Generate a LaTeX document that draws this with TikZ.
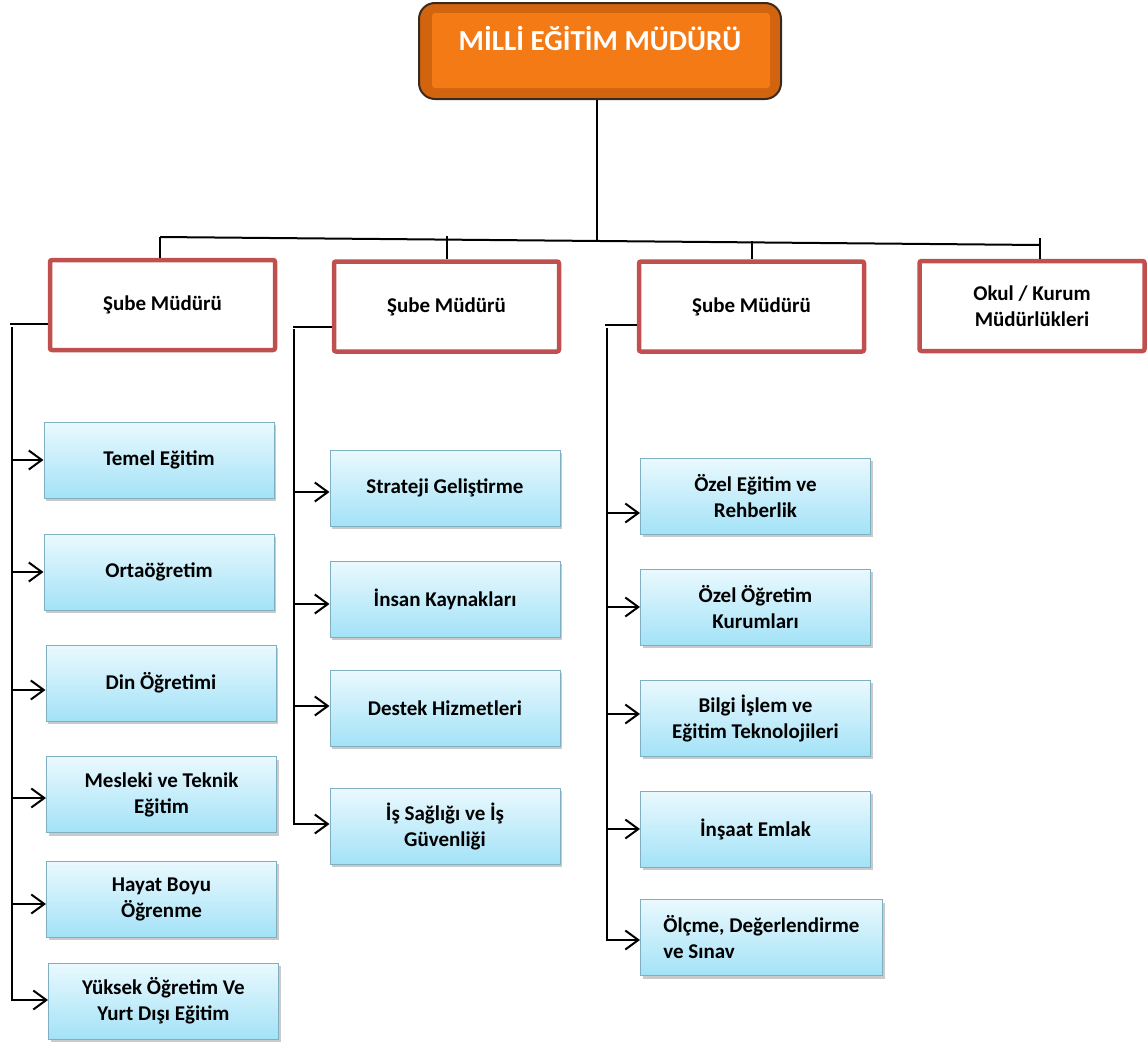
\documentclass[tikz,border=0pt]{standalone}
\usepackage{fontspec}
\setmainfont{Carlito}
\usetikzlibrary{arrows.meta,shadows}
\definecolor{redb}{HTML}{C0504D}
\definecolor{bluetop}{HTML}{EAF9FE}
\definecolor{bluebot}{HTML}{A3E2F7}
\definecolor{blueb}{HTML}{7FAFC0}
\definecolor{orout}{HTML}{D2640F}
\definecolor{orin}{HTML}{F47A16}
\definecolor{rim}{HTML}{3A2A1E}
\begin{document}
\begin{tikzpicture}[x=1pt,y=-1pt,
  line/.style={draw=black, line width=2pt},
  spine/.style={draw=black, line width=2.4pt},
  arr/.style={draw=black, line width=2pt, -{Straight Barb[length=13pt,width=19pt]}},
  subebox/.style={draw=redb, line width=4.5pt, fill=white, rounded corners=2pt,
    minimum width=225pt, minimum height=90pt, align=center,
    font=\fontsize{21}{26}\selectfont\bfseries},
  unitbox/.style={draw=blueb, line width=1pt, top color=bluetop, bottom color=bluebot,
    minimum width=230pt, minimum height=76pt, align=center,
    font=\fontsize{21}{26}\selectfont\bfseries,
    drop shadow={shadow xshift=2pt, shadow yshift=-3pt, opacity=0.35, fill=black!60}},
  topbox/.style={draw=rim, line width=2pt, fill=orout, rounded corners=16pt,
    minimum width=362pt, minimum height=96pt},
]
\useasboundingbox (0,0) rectangle (1148,1044);

% top box
\node[topbox] (top) at (600,51) {};
\fill[orin, rounded corners=3pt] (432,13) rectangle (770,88);
\node[text=white, font=\fontsize{29}{32}\selectfont\bfseries] (toptext) at (600,38) {MİLLİ EĞİTİM MÜDÜRÜ};

% branch managers
\node[subebox] (s1) at (162.5,305) {Şube Müdürü};
\node[subebox] (s2) at (446.5,306.5) {Şube Müdürü};
\node[subebox] (s3) at (751.5,306.5) {Şube Müdürü};
\node[subebox] (s4) at (1032,306) {Okul / Kurum\\Müdürlükleri};

% top connectors
\coordinate (hl) at (160,237);
\coordinate (hr) at (1040,245);
\draw[line] (hl) -- (hr);
\draw[line] (top.south -| 597,0) -- (597,240);
\draw[line] (hl) -- (s1.north -| hl);
\draw[line] (447,236) -- (s2.north -| 447,0);
\draw[line] (752,241) -- (s3.north -| 752,0);
\draw[line] (1040,238) -- (s4.north -| 1040,0);

% column 1
\node[unitbox] (b11) at (159,460) {Temel Eğitim};
\node[unitbox] (b12) at (159,572) {Ortaöğretim};
\node[unitbox] (b13) at (161,683) {Din Öğretimi};
\node[unitbox] (b14) at (161.5,794.5) {Mesleki ve Teknik\\Eğitim};
\node[unitbox] (b15) at (161.5,899) {Hayat Boyu\\Öğrenme};
\node[unitbox] (b16) at (163.5,1001) {Yüksek Öğretim Ve\\Yurt Dışı Eğitim};

% column 2
\node[unitbox] (b21) at (445,488) {Strateji Geliştirme};
\node[unitbox] (b22) at (445,599) {İnsan Kaynakları};
\node[unitbox] (b23) at (445,708) {Destek Hizmetleri};
\node[unitbox] (b24) at (445,826) {İş Sağlığı ve İş\\Güvenliği};

% column 3
\node[unitbox] (b31) at (755.5,496) {Özel Eğitim ve\\Rehberlik};
\node[unitbox] (b32) at (755.5,607) {Özel Öğretim\\Kurumları};
\node[unitbox] (b33) at (755.5,718) {Bilgi İşlem ve\\Eğitim Teknolojileri};
\node[unitbox] (b34) at (755.5,829) {İnşaat Emlak};
\node[unitbox, minimum width=242pt, align=left] (b35) at (761.5,937.5) {Ölçme, Değerlendirme\\ve Sınav};

% spine 1
\coordinate (p1) at (10,324);
\coordinate (t1) at (12,327);
\draw[line] (p1) -- (p1 -| s1.west);
\draw[spine] (t1) -- (12,1001);
\draw[arr] (t1 |- b11.west) -- (b11.west);
\draw[arr] (t1 |- 0,572) -- (b12.west |- 0,572);
\draw[arr] (t1 |- 0,690) -- (b13.west |- 0,690);
\draw[arr] (t1 |- 0,798) -- (b14.west |- 0,798);
\draw[arr] (t1 |- 0,904) -- (b15.west |- 0,904);
\draw[arr] (t1 |- 0,1000) -- (b16.west |- 0,1000);

% spine 2
\coordinate (p2) at (293,327);
\coordinate (t2) at (294,329);
\draw[line] (p2) -- (p2 -| s2.west);
\draw[spine] (t2) -- (294,825);
\draw[arr] (t2 |- 0,492) -- (b21.west |- 0,492);
\draw[arr] (t2 |- 0,604) -- (b22.west |- 0,604);
\draw[arr] (t2 |- 0,706) -- (b23.west |- 0,706);
\draw[arr] (t2 |- 0,824) -- (b24.west |- 0,824);

% spine 3
\coordinate (p3) at (605,325);
\coordinate (t3) at (607,328);
\draw[line] (p3) -- (p3 -| s3.west);
\draw[spine] (t3) -- (607,941);
\draw[arr] (t3 |- 0,513) -- (b31.west |- 0,513);
\draw[arr] (t3 |- 0,607) -- (b32.west |- 0,607);
\draw[arr] (t3 |- 0,714) -- (b33.west |- 0,714);
\draw[arr] (t3 |- 0,829) -- (b34.west |- 0,829);
\draw[arr] (t3 |- 0,940) -- (b35.west |- 0,940);
\end{tikzpicture}
\end{document}
